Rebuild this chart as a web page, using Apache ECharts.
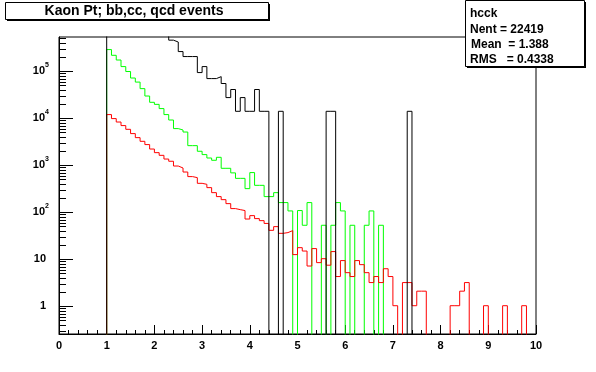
<!DOCTYPE html>
<html><head><meta charset="utf-8">
<script src="https://cdn.jsdelivr.net/npm/echarts/dist/echarts.min.js"></script>
<style>html,body{margin:0;padding:0;background:#fff}#c{width:596px;height:372px}</style>
</head><body><div id="c"></div>
<script>
// ---- data (100 bins of width 0.1 from 0 to 10) ----
const binStart = 0;
const binWidth = 0.1;
const blackCounts = [
  0,0,0,0,0,0,0,0,0,0,
  9.0e6,7.5e6,6.0e6,4.6e6,3.6e6,2.8e6,2.2e6,1.7e6,1.35e6,1.1e6,
  9.0e5,7.4e5,6.0e5,4.6e5,4.2e5,2.63e5,2.06e5,2.06e5,2.06e5,9.4e4,
  1.26e5,7.0e4,7.0e4,7.7e4,5.5e4,2.76e4,4.1e4,1.41e4,2.76e4,1.41e4,
  1.41e4,4.1e4,1.41e4,1.41e4,0,0,1.41e4,0,0,0,
  0,0,0,0,0,0,1.41e4,1.41e4,0,0,
  0,0,0,0,0,0,0,0,0,0,
  0,0,0,1.41e4,0,0,0,0,0,0,
  0,0,0,0,0,0,0,0,0,0,
  0,0,0,0,0,0,0,0,0,0
];
const greenCounts = [
  0,0,0,0,0,0,0,0,0,0,
  2.9e5,2.19e5,1.74e5,1.26e5,9.9e4,7.2e4,5.9e4,4.28e4,2.98e4,2.19e4,
  1.98e4,1.61e4,1.2e4,9200,6040,5640,5110,2620,2620,1990,
  1690,1430,1280,1480,864,864,690,528,528,319,
  700,375,375,216,216,262,161,161,107,0,
  109,53,161,0,0,53,0,53,161,107,
  0,53,0,0,53,107,0,53,0,0,
  0,0,0,0,0,0,0,0,0,0,
  0,0,0,0,0,0,0,0,0,0,
  0,0,0,0,0,0,0,0,0,0
];
const redCounts = [
  0,0,0,0,0,0,0,0,0,0,
  1.2e4,9860,8340,7000,5830,4730,3880,3240,2760,2220,
  1860,1630,1360,1220,966,877,720,575,547,414,
  394,335,262,216,186,153,120,114,109,72,
  85,73.5,66.5,58,41.4,49.6,35.7,37,40.8,12.6,
  17.7,15,7.2,16.9,8.5,10.3,7.5,14.6,4.3,9.4,
  5.2,4.3,9.4,7.7,5.2,3.2,4.3,3.2,6.3,4.3,
  1.03,0,3.2,3.2,1.03,2.1,2.1,0,0,0,
  0,0,1.03,1.03,2.1,3.2,0,0,0,1.03,
  0,0,0,1.03,0,0,0,1.03,0,0
];
const xTickLabels = ['0','1','2','3','4','5','6','7','8','9','10'];
const yDecades = [0,1,2,3,4,5];
const titleText = 'Kaon Pt; bb,cc, qcd events';
const statsLines = ['hcck','Nent = 22419','Mean  = 1.388','RMS   = 0.4338'];

// ---- axis ranges ----
const xMin = 0, xMax = 10;
const yMin = Math.pow(10, -0.589), yMax = Math.pow(10, 5.730);
const FLOOR = 1e-4; // empty bins drawn below the frame (clipped)

function histData(counts) {
  const pts = [];
  for (let k = 0; k < counts.length; k++) {
    pts.push([binStart + k * binWidth, counts[k] > 0 ? counts[k] : FLOOR]);
  }
  pts.push([binStart + counts.length * binWidth, FLOOR]);
  return pts;
}

// log-axis tick marks (major at decades, minor at 2..9)
const yTickData = [];
for (let n = -1; n <= 5; n++) {
  for (let m = 1; m <= 9; m++) {
    const v = m * Math.pow(10, n);
    if (v > yMin && v < yMax) yTickData.push([0, v, m === 1 ? 1 : 0]);
  }
}

const FONT = 'Liberation Sans';
const chart = echarts.init(document.getElementById('c'), null, {renderer: 'canvas'});
function histSeries(name, counts, color, z) {
  return {
    name, type: 'line', step: 'end', data: histData(counts), z,
    showSymbol: false, symbol: 'none', clip: true,
    lineStyle: {color, width: 1}, itemStyle: {color},
    animation: false, silent: true
  };
}
chart.setOption({
  animation: false,
  backgroundColor: '#fff',
  grid: {left: 59, top: 37, width: 477, height: 297, show: true, borderColor: '#000', borderWidth: 1, backgroundColor: 'transparent'},
  xAxis: {
    type: 'value', min: xMin, max: xMax, interval: 1,
    axisLine: {show: true, lineStyle: {color: '#000', width: 1}},
    axisTick: {show: true, inside: true, length: 9, lineStyle: {color: '#000'}},
    minorTick: {show: true, splitNumber: 5, length: 4, lineStyle: {color: '#000'}},
    splitLine: {show: false},
    axisLabel: {
      color: '#000', fontFamily: FONT, fontWeight: 'bold', fontSize: 11, margin: 6,
      formatter: (v) => { const i = Math.round(v); return Math.abs(v - i) < 1e-9 ? xTickLabels[i] : ''; }
    }
  },
  yAxis: {
    type: 'log', logBase: 10, min: yMin, max: yMax,
    axisLine: {show: true, lineStyle: {color: '#000', width: 1}},
    axisTick: {show: false},
    splitLine: {show: false},
    axisLabel: {
      margin: 10, color: '#000',
      formatter: (v) => {
        const e = Math.log10(v); const r = Math.round(e);
        if (Math.abs(e - r) > 1e-6 || yDecades.indexOf(r) < 0) return '';
        if (r === 0) return '{n|1}{p|}';
        if (r === 1) return '{n|10}{p|}';
        return '{n|10}{s|' + r + '}';
      },
      rich: {
        n: {fontFamily: FONT, fontWeight: 'bold', fontSize: 11, color: '#000'},
        s: {fontFamily: FONT, fontWeight: 'bold', fontSize: 7, color: '#000', verticalAlign: 'top', lineHeight: 20},
        p: {width: 3}
      }
    }
  },
  series: [
    histSeries('green', greenCounts, '#00ff00', 2),
    histSeries('red', redCounts, '#ff0000', 3),
    histSeries('black', blackCounts, '#000000', 4),
    {
      type: 'custom', data: yTickData, encode: {x: 0, y: 1}, silent: true, clip: false, z: 5,
      renderItem: (params, api) => {
        const v = api.value(1); const major = api.value(2) === 1;
        const p = api.coord([0, v]);
        const y = Math.round(p[1]) + 0.5; const x0 = params.coordSys.x;
        return {type: 'line', shape: {x1: x0, y1: y, x2: x0 + (major ? 14 : 7), y2: y}, style: {stroke: '#000', lineWidth: 1}};
      }
    }
  ],
  graphic: [
    {type: 'rect', z: 100, shape: {x: 7, y: 4, width: 263, height: 17}, style: {fill: '#000'}},
    {type: 'rect', z: 101, shape: {x: 5.5, y: 2.5, width: 263, height: 17}, style: {fill: '#fff', stroke: '#000', lineWidth: 1}},
    {type: 'text', z: 102, x: 134, y: 11, style: {text: titleText, fill: '#000', font: 'bold 14px "Liberation Sans"', textAlign: 'center', textVerticalAlign: 'middle'}},
    {type: 'rect', z: 100, shape: {x: 467, y: 2, width: 119, height: 66}, style: {fill: '#000'}},
    {type: 'rect', z: 101, shape: {x: 465.5, y: 0.5, width: 119, height: 66}, style: {fill: '#fff', stroke: '#000', lineWidth: 1}},
    {type: 'text', z: 102, x: 470, y: 14, style: {text: statsLines[0], fill: '#000', font: 'bold 12px "Liberation Sans"', textVerticalAlign: 'middle'}},
    {type: 'text', z: 102, x: 470, y: 30, style: {text: statsLines[1], fill: '#000', font: 'bold 12px "Liberation Sans"', textVerticalAlign: 'middle'}},
    {type: 'text', z: 102, x: 471, y: 45, style: {text: statsLines[2], fill: '#000', font: 'bold 12px "Liberation Sans"', textVerticalAlign: 'middle'}},
    {type: 'text', z: 102, x: 470, y: 60, style: {text: statsLines[3], fill: '#000', font: 'bold 12px "Liberation Sans"', textVerticalAlign: 'middle'}}
  ]
});
</script>
</body></html>
